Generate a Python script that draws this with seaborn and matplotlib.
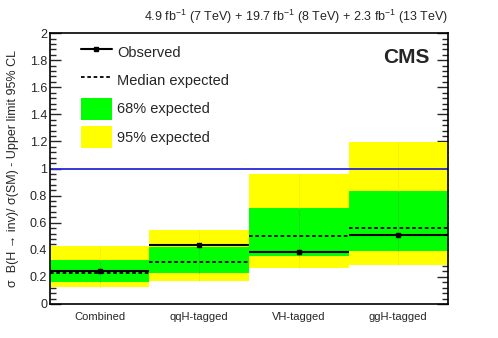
import matplotlib
matplotlib.use("Agg")
import matplotlib.pyplot as plt
from matplotlib.ticker import MultipleLocator, FuncFormatter
from matplotlib.patches import Patch
from matplotlib.lines import Line2D
import numpy as np
import seaborn as sns

# limits per category
categories = ['Combined', 'qqH-tagged', 'VH-tagged', 'ggH-tagged']
observed = [0.24, 0.435, 0.386, 0.51]
expected = [0.226, 0.308, 0.50, 0.56]
lo68 = [0.165, 0.226, 0.354, 0.389]
hi68 = [0.325, 0.423, 0.71, 0.834]
lo95 = [0.123, 0.17, 0.268, 0.288]
hi95 = [0.43, 0.546, 0.96, 1.198]

sns.set_style("ticks")
plt.rcParams['font.family'] = ['Liberation Sans', 'DejaVu Sans']
plt.rcParams['mathtext.fontset'] = 'custom'
plt.rcParams['mathtext.rm'] = 'Liberation Sans'
plt.rcParams['mathtext.it'] = 'Liberation Sans:italic'

fig = plt.figure(figsize=(4.98, 3.38), dpi=100)
ax = fig.add_axes([0.1004, 0.1006, 0.7992, 0.8014])

x = np.arange(len(categories))
ax.bar(x + 0.5, np.array(hi95) - np.array(lo95), bottom=lo95, width=1.0,
       color='#ffff00', linewidth=0)
ax.bar(x + 0.5, np.array(hi68) - np.array(lo68), bottom=lo68, width=1.0,
       color='#00ff00', linewidth=0)
# faint centre lines of the bands
ax.vlines(x + 0.5, lo95, hi95, colors='#f4f400', lw=0.7)
ax.vlines(x + 0.5, lo68, hi68, colors='#10e010', lw=0.7)

ax.hlines(expected, x, x + 1, colors='black', linestyles=(0, (2, 1.5)), lw=1.3)
ax.hlines(observed, x, x + 1, colors='black', lw=1.5)
ax.plot(x + 0.5, observed, 'ks', ms=2.5)

ax.axhline(1.0, color='#2828d8', lw=1.3)

ax.set_xlim(0, 4)
ax.set_ylim(0, 2)
ax.set_xticks(x + 0.5)
ax.set_xticklabels(categories, fontsize=8)
ax.tick_params(axis='x', length=0, pad=6)
ax.yaxis.set_major_locator(MultipleLocator(0.2))
ax.yaxis.set_minor_locator(MultipleLocator(0.04))
ax.yaxis.set_major_formatter(FuncFormatter(lambda v, p: f'{v:.1f}'.rstrip('0').rstrip('.')))
ax.tick_params(axis='y', which='major', direction='in', length=8, width=1,
               right=True, labelsize=9, pad=2)
ax.tick_params(axis='y', which='minor', direction='in', length=4, width=1, right=True)
for s in ax.spines.values():
    s.set_linewidth(1.2)
    s.set_color('black')

ax.set_ylabel('σ  B(H → inv)/ σ(SM) - Upper limit 95% CL', fontsize=9, labelpad=8)

ax.text(1.0, 1.025, r'4.9 fb$^{-1}$ (7 TeV) + 19.7 fb$^{-1}$ (8 TeV) + 2.3 fb$^{-1}$ (13 TeV)',
        transform=ax.transAxes, ha='right', va='bottom', fontsize=9)
ax.text(0.955, 0.945, 'CMS', transform=ax.transAxes, ha='right', va='top',
        fontsize=15, fontweight='bold')

handles = [
    Line2D([0], [0], color='black', lw=1.5, marker='s', ms=2.5),
    Line2D([0], [0], color='black', lw=1.3, linestyle=(0, (2, 1.5))),
    Patch(facecolor='#00ff00', edgecolor='none'),
    Patch(facecolor='#ffff00', edgecolor='none'),
]
labels = ['Observed', 'Median expected', '68% expected', '95% expected']
ax.legend(handles, labels, loc='upper left', bbox_to_anchor=(0.045, 1.02),
          frameon=False, fontsize=10.5, handlelength=2.1, handleheight=2.0,
          labelspacing=0.4, handletextpad=0.35)

fig.savefig('out.png', dpi=100)
